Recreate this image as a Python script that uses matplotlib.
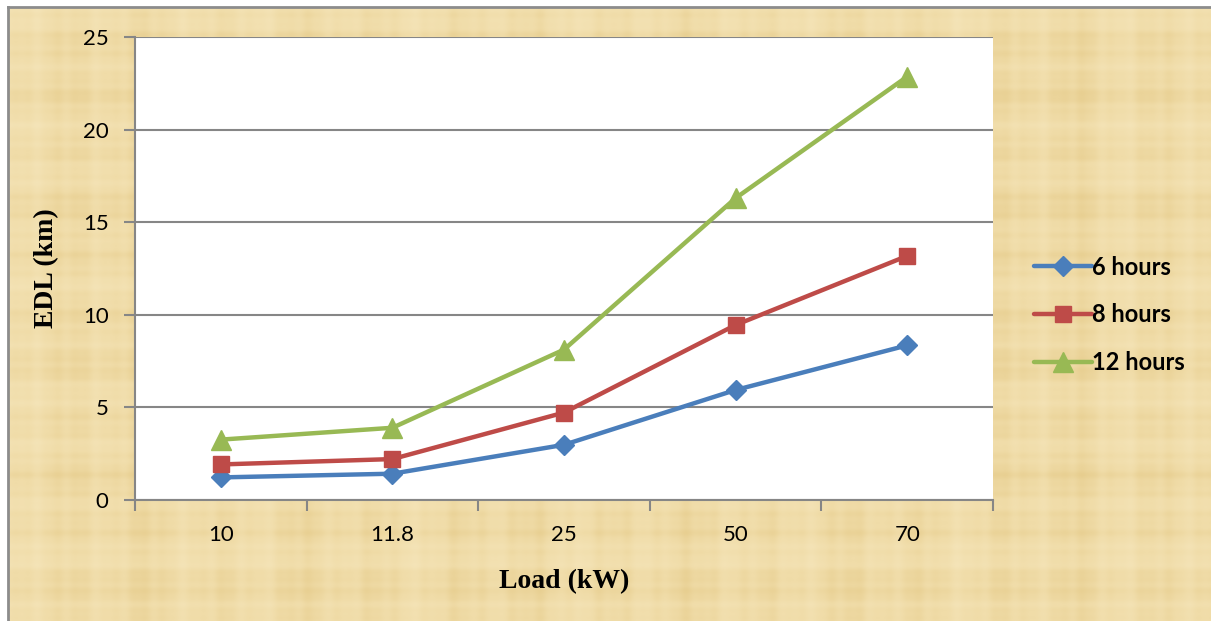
import numpy as np
import matplotlib
matplotlib.use("Agg")
import matplotlib.pyplot as plt
from matplotlib.lines import Line2D

# Data
loads = ["10", "11.8", "25", "50", "70"]
edl_6h = [1.22, 1.42, 2.98, 5.94, 8.35]
edl_8h = [1.92, 2.21, 4.72, 9.45, 13.18]
edl_12h = [3.26, 3.90, 8.12, 16.30, 22.86]
series_names = ["6 hours", "8 hours", "12 hours"]

W, H = 1211, 621
fig = plt.figure(figsize=(W / 100, H / 100), dpi=100)
fig.patch.set_facecolor("white")

# Parchment backdrop with soft woven banding
bg = fig.add_axes([8 / W, 0, 1 - 8 / W, (H - 7) / H], zorder=0)
nx, ny = 600, 310
xx = np.linspace(0, 1, nx)
yy = np.linspace(0, 1, ny)
vx = (0.5 * np.sin(xx * 97) + 0.35 * np.sin(xx * 263 + 1.3) + 0.25 * np.sin(xx * 41 + 0.4)
      + 0.2 * np.sin(xx * 517 + 2.1))
hy = (0.5 * np.sin(yy * 71 + 0.7) + 0.35 * np.sin(yy * 193 + 2.2) + 0.25 * np.sin(yy * 29 + 1.1)
      + 0.2 * np.sin(yy * 401 + 0.3))
tex = 0.5 * vx[None, :] + 0.5 * hy[:, None]
tex = tex / np.abs(tex).max()
base = np.array([240, 220, 168]) / 255.0
dark = np.array([230, 204, 140]) / 255.0
light = np.array([245, 229, 186]) / 255.0
t = tex[..., None]
img = np.where(t > 0, base + (light - base) * t, base + (dark - base) * (-t))
bg.imshow(np.clip(img, 0, 1), aspect="auto", extent=[0, 1, 0, 1], interpolation="bilinear")
bg.set_xlim(0, 1)
bg.set_ylim(0, 1)
bg.axis("off")
# thin grey frame on the top and left edges
fig.add_artist(Line2D([8 / W, 1], [(H - 7) / H] * 2, color="#8c8c8c", lw=2, zorder=1))
fig.add_artist(Line2D([8 / W] * 2, [0, (H - 7) / H], color="#8c8c8c", lw=2, zorder=1))

# Plot area
ax = fig.add_axes([135 / W, (H - 500) / H, (993 - 135) / W, (500 - 37) / H], zorder=2)
ax.set_facecolor("white")

x = np.arange(len(loads))
colors = ["#4A7EBB", "#BE4B48", "#98B954"]
markers = ["D", "s", "^"]
msizes = [10, 12, 15]
for vals, name, c, m, ms in zip([edl_6h, edl_8h, edl_12h], series_names, colors, markers, msizes):
    ax.plot(x, vals, color=c, lw=3.2, marker=m, markersize=ms, markeredgecolor=c,
            markerfacecolor=c, label=name, zorder=3, solid_capstyle="round")

ax.set_xlim(-0.5, len(loads) - 0.5)
ax.set_ylim(0, 25)
ax.set_yticks(np.arange(0, 26, 5))
ax.yaxis.grid(True, color="#868686", lw=1.5)
ax.set_axisbelow(True)

ax.set_xticks(x)
ax.set_xticklabels(loads)
ax.set_xticks(np.arange(-0.5, len(loads)), minor=True)
ax.tick_params(axis="x", which="major", length=0, pad=18, labelsize=16)
ax.tick_params(axis="x", which="minor", length=8, width=1.5, color="#868686", direction="out")
ax.tick_params(axis="y", length=8, width=1.5, color="#868686", direction="out", pad=11, labelsize=16)
for lab in ax.get_xticklabels() + ax.get_yticklabels():
    lab.set_fontfamily("Lato")

for side in ["top", "right"]:
    ax.spines[side].set_visible(False)
for side in ["left", "bottom"]:
    ax.spines[side].set_color("#868686")
    ax.spines[side].set_linewidth(1.5)

ax.set_xlabel("Load (kW)", fontfamily="Liberation Serif", fontweight="bold", fontsize=20, labelpad=17)
ax.set_ylabel("EDL (km)", fontfamily="Liberation Serif", fontweight="bold", fontsize=20, labelpad=17)

leg = ax.legend(loc="center left", bbox_to_anchor=(1.037, 0.40), frameon=False,
                prop={"family": "Lato", "weight": "bold", "size": 17},
                handlelength=2.45, handletextpad=0.0, labelspacing=1.05, borderaxespad=0)

fig.savefig("out.png", dpi=100)
